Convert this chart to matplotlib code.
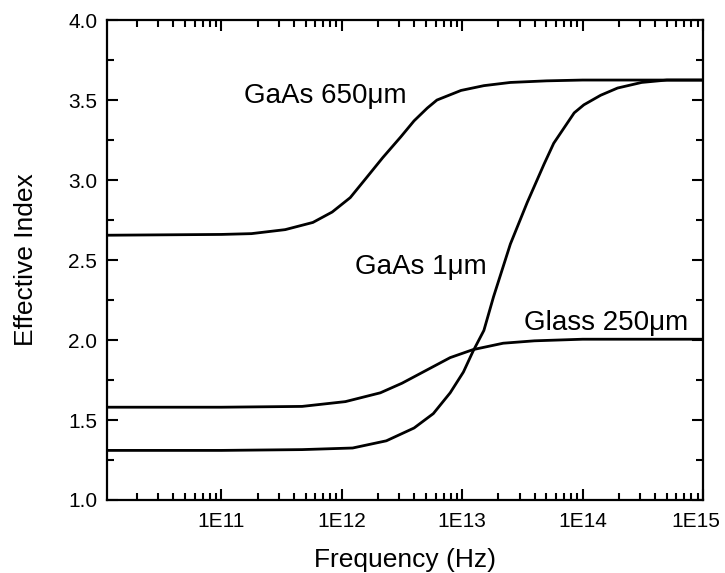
import matplotlib
matplotlib.use("Agg")
import matplotlib.pyplot as plt
from matplotlib.ticker import FixedLocator, FuncFormatter, LogLocator, MultipleLocator, NullFormatter
from matplotlib.transforms import ScaledTranslation
import numpy as np

plt.rcParams['font.family'] = ['Liberation Sans', 'DejaVu Sans']

# log10(frequency in Hz) and effective index values
gaas650_logf = [10.05, 11.0, 11.25, 11.53, 11.76, 11.92, 12.07, 12.20, 12.34, 12.49, 12.60, 12.71, 12.79, 12.99, 13.18, 13.4, 13.7, 14.0, 15.0]
gaas650_n = [2.655, 2.66, 2.665, 2.69, 2.735, 2.80, 2.89, 3.01, 3.14, 3.27, 3.37, 3.45, 3.50, 3.56, 3.59, 3.61, 3.62, 3.625, 3.625]

gaas1_logf = [10.05, 11.0, 11.67, 12.09, 12.37, 12.60, 12.76, 12.90, 13.01, 13.09, 13.18, 13.26, 13.40, 13.54, 13.68, 13.76, 13.93, 14.01, 14.15, 14.29, 14.49, 14.7, 15.0]
gaas1_n = [1.31, 1.31, 1.315, 1.325, 1.37, 1.45, 1.54, 1.67, 1.80, 1.93, 2.06, 2.27, 2.60, 2.86, 3.10, 3.23, 3.42, 3.47, 3.53, 3.575, 3.61, 3.625, 3.625]

glass_logf = [10.05, 11.0, 11.67, 12.03, 12.32, 12.50, 12.70, 12.90, 13.09, 13.34, 13.6, 14.0, 15.0]
glass_n = [1.58, 1.58, 1.585, 1.615, 1.67, 1.73, 1.81, 1.89, 1.94, 1.98, 1.995, 2.005, 2.005]

xtick_vals = [1e11, 1e12, 1e13, 1e14, 1e15]
xtick_labels = ['1E11', '1E12', '1E13', '1E14', '1E15']

fig = plt.figure(figsize=(7.25, 5.73), dpi=100)
ax = fig.add_axes([0.1476, 0.1274, 0.9697 - 0.1476, 0.965 - 0.1274])

for lf, n in [(gaas650_logf, gaas650_n), (gaas1_logf, gaas1_n), (glass_logf, glass_n)]:
    ax.plot(10 ** np.array(lf), n, color='black', lw=2.0, solid_joinstyle='round', solid_capstyle='round')

ax.set_xscale('log')
ax.set_xlim(10 ** 10.05, 1e15)
ax.set_ylim(1.0, 4.0)

ax.xaxis.set_major_locator(FixedLocator(xtick_vals))
ax.xaxis.set_major_formatter(FuncFormatter(lambda v, p: xtick_labels[xtick_vals.index(v)] if v in xtick_vals else ''))
ax.xaxis.set_minor_locator(LogLocator(base=10, subs=np.arange(2, 10), numticks=20))
ax.xaxis.set_minor_formatter(NullFormatter())
ax.yaxis.set_major_locator(MultipleLocator(0.5))
ax.yaxis.set_minor_locator(MultipleLocator(0.25))
ax.yaxis.set_major_formatter(FuncFormatter(lambda v, p: f'{v:.1f}'))

ax.tick_params(which='both', direction='in', top=True, right=True, labelsize=15, width=1.5)
ax.tick_params(which='major', length=8)
ax.tick_params(axis='x', which='major', pad=9)
ax.tick_params(axis='y', which='major', pad=7)
ax.tick_params(which='minor', length=5)
for s in ax.spines.values():
    s.set_linewidth(1.6)

ax.set_xlabel('Frequency (Hz)', fontsize=19, labelpad=12)
ax.set_ylabel('Effective Index', fontsize=19, labelpad=22)

ax.text(10 ** 11.19, 3.48, 'GaAs 650\u03bcm', fontsize=20, va='baseline', ha='left')
ax.text(10 ** 12.11, 2.41, 'GaAs 1\u03bcm', fontsize=20, va='baseline', ha='left')
ax.text(10 ** 13.51, 2.06, 'Glass 250\u03bcm', fontsize=20, va='baseline', ha='left')

# keep the last tick label inside the figure, as in the reference
fig.canvas.draw()
last_tick = ax.xaxis.get_major_ticks()[-1]
last_tick.label1.set_transform(last_tick.label1.get_transform() + ScaledTranslation(-5 / 72, 0, fig.dpi_scale_trans))

fig.savefig('out.png', dpi=100)
